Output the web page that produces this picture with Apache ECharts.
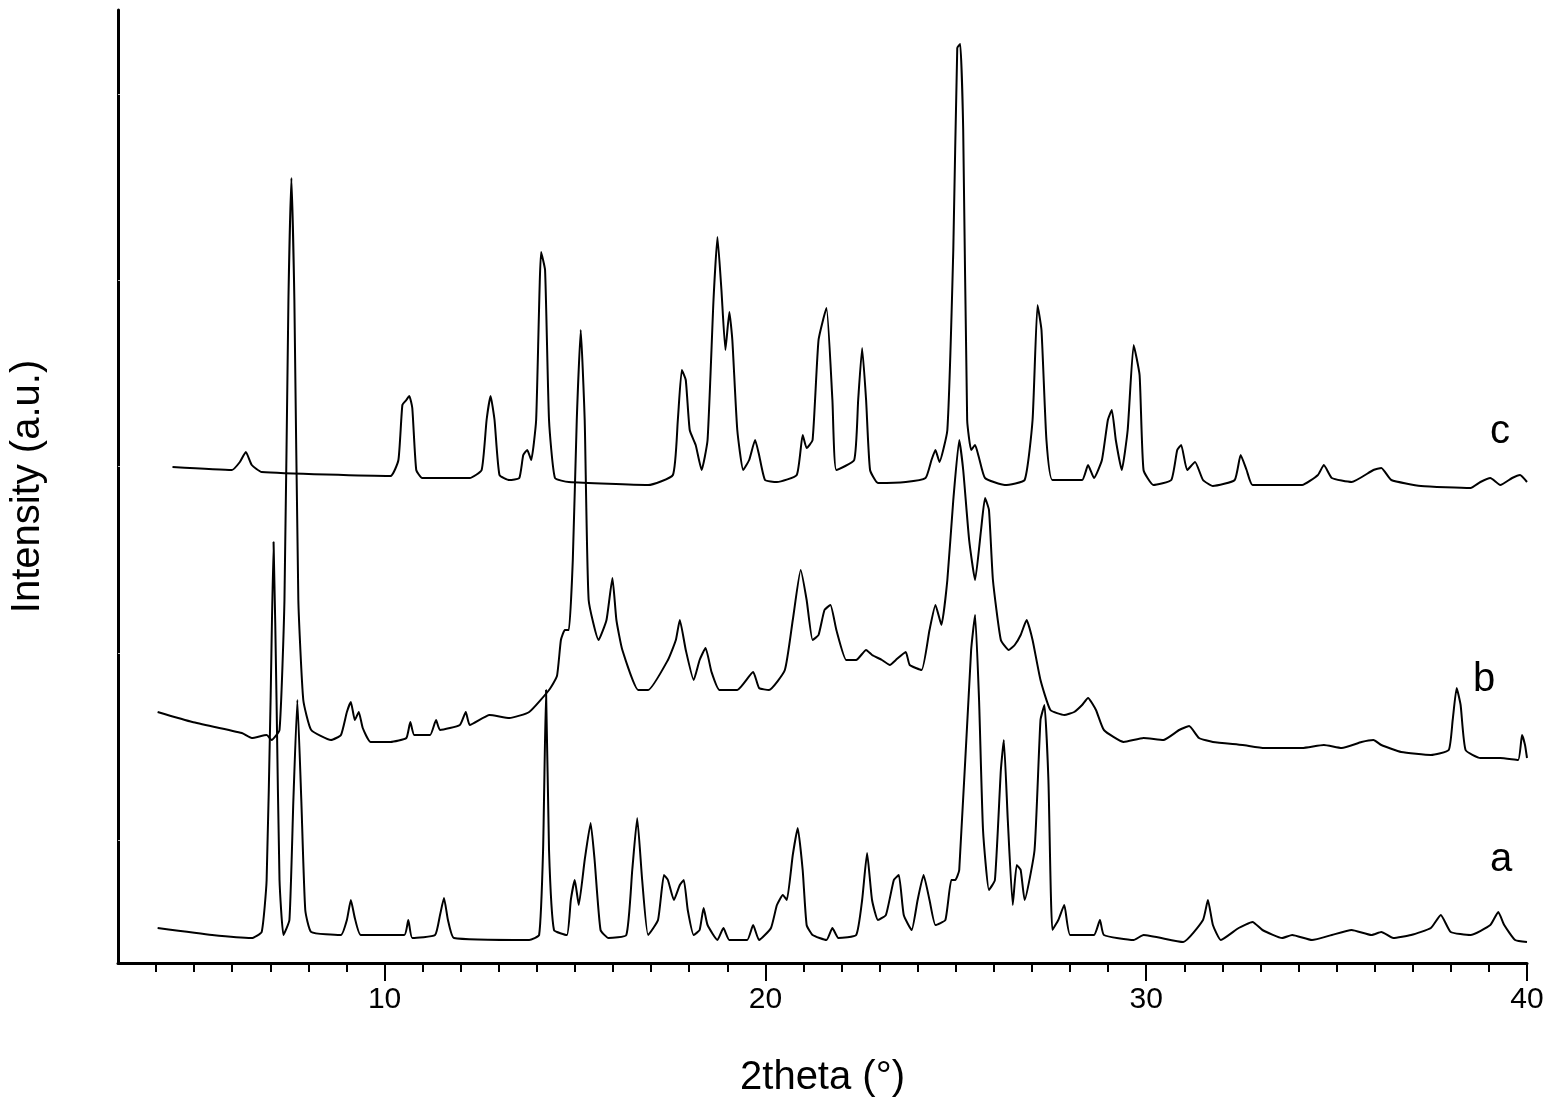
<!DOCTYPE html>
<html><head><meta charset="utf-8">
<script src="https://cdn.jsdelivr.net/npm/echarts@6/dist/echarts.min.js"></script>
<style>html,body{margin:0;padding:0;background:#fff}#c{width:1562px;height:1118px}</style>
</head><body><div id="c"></div>
<script>
// Readings as [picture-x, picture-y] pairs, converted below to 2theta / intensity
const traceC = [[160,467],[220,470],[228,462],[234,452],[240,465],[250,472],[380,476],[388,460],[392,405],[396,400],[399,396],[402,408],[406,470],[412,478],[460,478],[472,470],[477,420],[481,396],[485,420],[490,475],[500,480],[510,478],[514,455],[518,450],[522,460],[527,420],[532,252],[536,270],[540,420],[546,478],[560,482],[640,485],[665,475],[670,420],[674,370],[678,380],[682,430],[688,445],[694,470],[700,440],[706,300],[710,237],[714,290],[718,350],[722,312],[725,340],[730,430],[736,470],[742,460],[748,440],[752,455],[758,480],[770,482],[790,475],[796,435],[800,448],[806,440],[812,340],[820,308],[826,400],[830,470],[848,460],[852,400],[856,348],[860,400],[864,470],[872,483],[900,482],[920,478],[926,460],[930,450],[934,462],[942,430],[948,250],[952,48],[955,44],[958,130],[962,420],[966,450],[970,445],[974,458],[980,478],[1000,485],[1020,480],[1028,420],[1033,305],[1037,330],[1042,440],[1048,480],[1078,480],[1084,465],[1090,478],[1098,460],[1104,420],[1108,410],[1112,440],[1118,470],[1124,430],[1130,345],[1136,375],[1140,470],[1150,485],[1168,480],[1174,450],[1178,445],[1184,470],[1192,462],[1200,480],[1210,486],[1232,480],[1238,455],[1244,470],[1250,485],[1300,485],[1316,475],[1322,465],[1330,478],[1350,482],[1372,470],[1380,468],[1390,480],[1420,486],[1470,488],[1480,482],[1490,478],[1500,485],[1512,478],[1520,475],[1527,482]];
const traceB = [[145,712],[180,722],[230,733],[240,738],[255,735],[260,740],[268,730],[273,600],[277,300],[280,178],[283,300],[287,600],[292,700],[300,730],[320,740],[330,735],[336,712],[340,702],[344,720],[348,712],[352,728],[360,742],[380,742],[396,738],[400,722],[404,735],[420,735],[426,720],[430,730],[450,725],[456,712],[460,725],[480,715],[500,718],[520,712],[540,690],[548,676],[552,640],[556,630],[560,630],[564,560],[568,420],[572,330],[576,420],[580,600],[590,640],[598,620],[604,578],[608,620],[614,650],[630,690],[640,690],[660,660],[668,640],[672,620],[678,650],[686,680],[692,660],[698,648],[704,672],[712,690],[730,690],[746,672],[752,688],[762,690],[778,670],[786,620],[794,570],[800,600],[806,640],[812,635],[818,610],[824,605],[830,630],[840,660],[850,660],[860,650],[866,655],[876,660],[884,665],[890,660],[900,652],[904,665],[916,670],[924,630],[930,605],[936,625],[942,580],[948,500],[954,440],[958,470],[964,540],[970,580],[976,530],[980,498],[984,510],[988,580],[996,640],[1004,650],[1010,645],[1016,635],[1022,620],[1028,640],[1036,680],[1046,710],[1060,715],[1070,712],[1078,705],[1084,698],[1092,710],[1100,730],[1120,742],[1140,738],[1160,740],[1176,730],[1186,726],[1196,738],[1210,742],[1240,745],[1262,748],[1300,748],[1322,745],[1340,748],[1360,742],[1372,740],[1380,745],[1400,752],[1430,755],[1448,750],[1452,720],[1456,688],[1460,705],[1465,750],[1480,758],[1500,758],[1518,760],[1522,735],[1525,745],[1527,758]];
const traceA = [[145,928],[200,935],[240,938],[250,932],[255,880],[259,700],[262,542],[265,700],[268,880],[272,935],[278,920],[282,800],[286,700],[290,800],[294,910],[300,932],[330,935],[336,920],[340,900],[344,918],[350,935],[394,935],[398,920],[402,938],[425,935],[430,915],[434,898],[438,920],[444,938],[520,940],[530,935],[534,850],[537,690],[540,850],[545,930],[558,935],[562,900],[566,880],[570,905],[576,860],[582,823],[586,860],[592,930],[600,938],[618,935],[624,870],[629,818],[634,880],[640,935],[650,920],[656,875],[660,880],[666,900],[672,885],[676,880],[680,910],[686,935],[692,930],[696,908],[700,925],[710,940],[716,928],[722,940],[740,940],[746,925],[752,940],[764,928],[770,905],[776,895],[780,900],[786,855],[791,828],[796,870],[800,925],[806,935],[820,940],[826,928],[832,938],[850,935],[856,900],[861,853],[866,900],[872,920],[880,915],[888,880],[893,875],[898,915],[906,930],[912,900],[918,875],[924,900],[930,925],[940,920],[946,880],[950,880],[954,870],[966,650],[970,615],[974,700],[978,830],[984,890],[990,880],[996,770],[999,740],[1003,820],[1008,905],[1012,865],[1016,870],[1020,900],[1030,850],[1036,720],[1040,705],[1044,780],[1048,930],[1054,920],[1060,905],[1066,935],[1090,935],[1096,920],[1100,935],[1130,940],[1140,935],[1180,942],[1200,920],[1205,900],[1210,925],[1218,940],[1236,928],[1250,922],[1260,930],[1280,938],[1290,935],[1310,940],[1330,935],[1350,930],[1370,935],[1380,932],[1392,938],[1410,935],[1430,928],[1440,915],[1450,932],[1470,935],[1490,925],[1498,912],[1504,925],[1515,940],[1527,942]];
const majorTicks = [10,20,30,40];
const minorTicks = [4,5,6,7,8,9,11,12,13,14,15,16,17,18,19,21,22,23,24,25,26,27,28,29,31,32,33,34,35,36,37,38,39];
const yTicks = [123,310,497,683,869];
const seriesNames = ['a','b','c'];

// calibration of the picture readings (3° at x=105, 40° at x=1527; baseline at y=963)
const toData = p => [3 + (p[0]-105)*37/1422, 963 - p[1]];
const chart = echarts.init(document.getElementById('c'));
const font = 'Liberation Sans, Arial, sans-serif';
const mk = (name, d) => ({name, type:'line', data:d.map(toData), showSymbol:false, smooth:0.15,
  lineStyle:{color:'#000', width:2}, xAxisIndex:0, yAxisIndex:0, animation:false});
chart.setOption({
  animation:false,
  grid:{left:105,right:35,top:10,bottom:155},
  xAxis:[
    {type:'value',min:3,max:40,position:'bottom',
     axisLine:{lineStyle:{color:'#000',width:3}},
     axisTick:{customValues:minorTicks,length:9,lineStyle:{color:'#000',width:2}},
     axisLabel:{show:false},splitLine:{show:false},
     name:'2theta (°)',nameLocation:'middle',nameGap:95,nameTextStyle:{fontSize:40,fontFamily:font,color:'#000'}},
    {type:'value',min:3,max:40,position:'bottom',
     axisLine:{show:false},
     axisTick:{customValues:majorTicks,length:18,lineStyle:{color:'#000',width:2}},
     axisLabel:{customValues:majorTicks,fontSize:30,fontFamily:font,color:'#000',margin:22},
     splitLine:{show:false}}
  ],
  yAxis:{type:'value',min:0,max:953,
    axisLine:{show:true,lineStyle:{color:'#000',width:3}},
    axisTick:{customValues:yTicks,inside:true,length:2,lineStyle:{color:'#bbb',width:1}},
    axisLabel:{show:false},splitLine:{show:false},
    name:'Intensity (a.u.)',nameLocation:'middle',nameGap:70,nameTextStyle:{fontSize:40,fontFamily:font,color:'#000'}},
  series:[mk(seriesNames[0],traceA),mk(seriesNames[1],traceB),mk(seriesNames[2],traceC)],
  graphic:[
    {type:'text',left:1490,top:840,style:{text:'a',font:'40px '+font,fill:'#000'}},
    {type:'text',left:1473,top:660,style:{text:'b',font:'40px '+font,fill:'#000'}},
    {type:'text',left:1490,top:412,style:{text:'c',font:'40px '+font,fill:'#000'}}
  ]
});
</script></body></html>
